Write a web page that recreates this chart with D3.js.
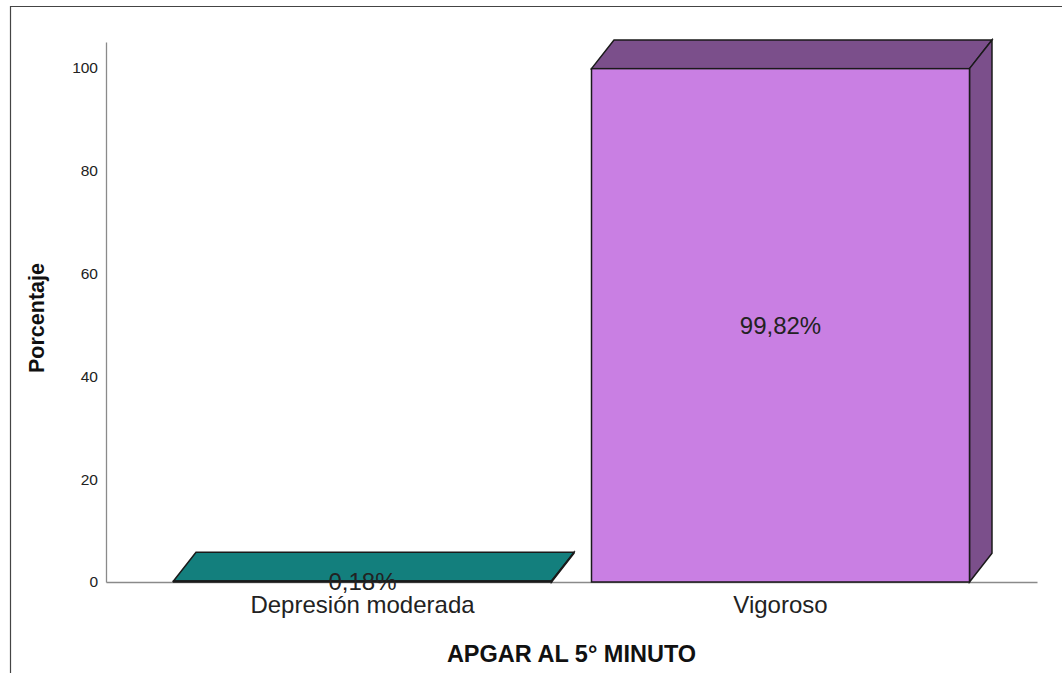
<!DOCTYPE html>
<html>
<head>
<meta charset="utf-8">
<script src="https://cdn.jsdelivr.net/npm/d3@7"></script>
<style>
  html, body { margin: 0; padding: 0; background: #ffffff; }
  svg { display: block; font-family: "Liberation Sans", Arial, sans-serif; }
</style>
</head>
<body>
<svg id="chart" width="1062" height="673"></svg>
<script>
// APGAR score at 5 minutes: share of newborns per category
const categories = ["Depresión moderada", "Vigoroso"];
const percentages = [0.18, 99.82];
const valueLabels = ["0,18%", "99,82%"];
const yTicks = [0, 20, 40, 60, 80, 100];

const frontColors = ["#1fc9c6", "#c97fe3"];
const shadeColors = ["#137f7d", "#7b4f8b"];

const W = 1062, H = 673;
const plot = { left: 106, right: 1037, top: 42, bottom: 582 };
const depth = { dx: 22.5, dy: -28.7 };

const svg = d3.select("#chart");
svg.append("rect").attr("width", W).attr("height", H).attr("fill", "#fff");

// outer frame (top and left edges)
svg.append("path")
  .attr("d", `M10.5,${H} L10.5,6.5 L${W},6.5`)
  .attr("fill", "none").attr("stroke", "#444").attr("stroke-width", 1.2);

const x = d3.scaleBand()
  .domain(categories)
  .range([plot.left, plot.right])
  .paddingInner(0.0957)
  .paddingOuter(0.1615);

const y = d3.scaleLinear()
  .domain([0, 105])
  .range([plot.bottom, plot.top]);

// y axis
const yAxis = svg.append("g")
  .attr("transform", `translate(${plot.left},0)`)
  .call(d3.axisLeft(y).tickValues(yTicks).tickSize(0).tickSizeOuter(0).tickPadding(8));
yAxis.select(".domain").attr("stroke", "#8a8a8a").attr("stroke-width", 1.3);
yAxis.selectAll("text")
  .attr("font-family", "Liberation Sans, Arial, sans-serif")
  .attr("font-size", 15.5).attr("fill", "#222");

// x axis
const xAxis = svg.append("g")
  .attr("transform", `translate(0,${plot.bottom})`)
  .call(d3.axisBottom(x).tickSize(0).tickSizeOuter(0).tickPadding(14));
xAxis.select(".domain").attr("stroke", "#8a8a8a").attr("stroke-width", 1.3);
xAxis.selectAll("text")
  .attr("font-family", "Liberation Sans, Arial, sans-serif")
  .attr("font-size", 24).attr("fill", "#222");

// 3D bars: top face, side face, front face
const bars = svg.append("g");
categories.forEach((c, i) => {
  const x0 = x(c), x1 = x(c) + x.bandwidth();
  const yT = y(percentages[i]), yB = y(0);
  const { dx, dy } = depth;
  const g = bars.append("g")
    .attr("stroke", "#1a1a1a").attr("stroke-width", 1.5).attr("stroke-linejoin", "miter");
  g.append("polygon")
    .attr("points", [[x0, yT], [x0 + dx, yT + dy], [x1 + dx, yT + dy], [x1, yT]].join(" "))
    .attr("fill", shadeColors[i]);
  g.append("polygon")
    .attr("points", [[x1, yT], [x1 + dx, yT + dy], [x1 + dx, yB + dy], [x1, yB]].join(" "))
    .attr("fill", shadeColors[i]);
  g.append("rect")
    .attr("x", x0).attr("y", yT)
    .attr("width", x1 - x0).attr("height", Math.max(0, yB - yT))
    .attr("fill", frontColors[i]);
});

// value labels in the middle of each front face
svg.append("g")
  .selectAll("text")
  .data(categories)
  .join("text")
  .attr("x", d => x(d) + x.bandwidth() / 2)
  .attr("y", (d, i) => (y(percentages[i]) + y(0)) / 2 + 8.8)
  .attr("text-anchor", "middle")
  .attr("font-size", 24)
  .attr("fill", "#222")
  .text((d, i) => valueLabels[i]);

// axis titles
svg.append("text")
  .attr("x", (plot.left + plot.right) / 2)
  .attr("y", 662)
  .attr("text-anchor", "middle")
  .attr("font-weight", "bold")
  .attr("font-size", 23.5)
  .attr("fill", "#111")
  .text("APGAR AL 5° MINUTO");

svg.append("text")
  .attr("transform", "translate(44,318) rotate(-90)")
  .attr("text-anchor", "middle")
  .attr("font-weight", "bold")
  .attr("font-size", 21.5)
  .attr("fill", "#111")
  .text("Porcentaje");
</script>
</body>
</html>
